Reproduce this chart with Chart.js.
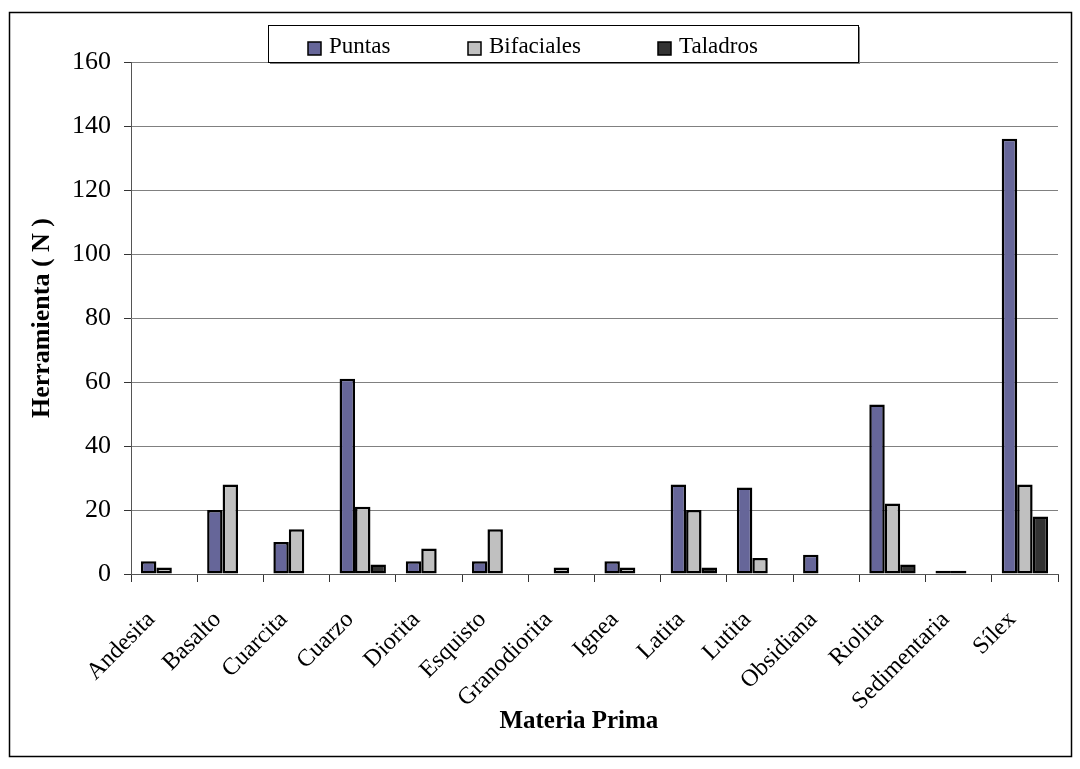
<!DOCTYPE html>
<html>
<head>
<meta charset="utf-8">
<script src="https://cdn.jsdelivr.net/npm/chart.js@4/dist/chart.umd.min.js"></script>
<style>
  html, body { margin: 0; padding: 0; background: #ffffff; }
  canvas { display: block; }
</style>
</head>
<body>
<canvas id="c" width="1080" height="769"></canvas>
<script>
const categories = ["Andesita", "Basalto", "Cuarcita", "Cuarzo", "Diorita", "Esquisto", "Granodiorita", "Ignea", "Latita", "Lutita", "Obsidiana", "Riolita", "Sedimentaria", "Sílex"];
const puntas     = [4, 20, 10, 61, 4, 4, 0, 4, 28, 27, 6, 53, 1, 136];
const bifaciales = [2, 28, 14, 21, 8, 14, 2, 2, 20, 5, 0, 22, 1, 28];
const taladros   = [0, 0, 0, 3, 0, 0, 0, 0, 2, 0, 0, 3, 0, 18];
const seriesNames = ["Puntas", "Bifaciales", "Taladros"];
const yTicks = [0, 20, 40, 60, 80, 100, 120, 140, 160];

const FONT = "'Liberation Serif', 'Times New Roman', serif";

const bgPlugin = {
  id: 'bg',
  beforeDraw(chart) {
    const ctx = chart.ctx;
    ctx.save();
    ctx.fillStyle = '#ffffff';
    ctx.fillRect(0, 0, chart.width, chart.height);
    ctx.restore();
  },
  afterDraw(chart) {
    const ctx = chart.ctx;
    ctx.save();
    // outer frame
    ctx.strokeStyle = '#000000';
    ctx.lineWidth = 1.5;
    ctx.strokeRect(9.5, 12.5, 1062, 744);
    // legend box with shadow
    const lx = 268, ly = 25, lw = 590, lh = 37;
    ctx.fillStyle = '#808080';
    ctx.fillRect(lx + 2, ly + 2, lw, lh);
    ctx.fillStyle = '#ffffff';
    ctx.fillRect(lx, ly, lw, lh);
    ctx.strokeStyle = '#000000';
    ctx.lineWidth = 1;
    ctx.strokeRect(lx + 0.5, ly + 0.5, lw, lh);
    const boxX = [308, 468, 658];
    ctx.font = "23px " + FONT;
    ctx.textBaseline = 'alphabetic';
    ctx.textAlign = 'left';
    chart.data.datasets.forEach((ds, i) => {
      const bx = boxX[i], by = 42;
      ctx.fillStyle = ds.backgroundColor;
      ctx.fillRect(bx, by, 13, 13);
      ctx.strokeStyle = '#000000';
      ctx.lineWidth = 1.5;
      ctx.strokeRect(bx, by, 13, 13);
      ctx.fillStyle = '#000000';
      ctx.fillText(ds.label, bx + 21, 53);
    });
    ctx.restore();
  }
};

const zeroBorder = (c) => (c.raw === 0 ? 0 : 2.5);

new Chart(document.getElementById('c'), {
  type: 'bar',
  data: {
    labels: categories,
    datasets: [
      { label: seriesNames[0], data: puntas, backgroundColor: '#666699', borderColor: '#000000', borderWidth: zeroBorder, borderSkipped: false },
      { label: seriesNames[1], data: bifaciales, backgroundColor: '#C0C0C0', borderColor: '#000000', borderWidth: zeroBorder, borderSkipped: false },
      { label: seriesNames[2], data: taladros, backgroundColor: '#333333', borderColor: '#000000', borderWidth: zeroBorder, borderSkipped: false }
    ]
  },
  options: {
    responsive: false,
    devicePixelRatio: 1,
    animation: false,
    categoryPercentage: 0.7,
    barPercentage: 1.0,
    layout: { padding: { left: 23, right: 22, top: 62, bottom: 28 } },
    plugins: {
      legend: { display: false },
      tooltip: { enabled: false },
      title: { display: false }
    },
    scales: {
      x: {
        grid: { display: true, drawOnChartArea: false, drawTicks: true, tickLength: 8, tickColor: '#333333', offset: true },
        border: { display: true, color: '#555555', width: 1 },
        ticks: {
          color: '#000000',
          font: { family: FONT, size: 24 },
          minRotation: 45, maxRotation: 45, autoSkip: false, padding: 11,
          callback: (v, i) => categories[i] + '   '
        },
        title: {
          display: true, text: 'Materia Prima     ', color: '#000000',
          font: { family: FONT, size: 25, weight: 'bold' },
          padding: { top: 4, bottom: 4 }
        },
        afterFit(scale) { scale.height = 167; }
      },
      y: {
        min: 0, max: 160,
        afterBuildTicks(scale) { scale.ticks = yTicks.map(v => ({ value: v })); },
        grid: { color: '#808080', lineWidth: 1, drawTicks: true, tickLength: 7, tickColor: '#333333' },
        border: { display: true, color: '#555555', width: 1 },
        ticks: { color: '#000000', font: { family: FONT, size: 26 }, padding: 13 },
        title: {
          display: true, text: 'Herramienta ( N )', color: '#000000',
          font: { family: FONT, size: 26, weight: 'bold' },
          padding: { top: 4, bottom: 4 }
        },
        afterFit(scale) { scale.width = 108; }
      }
    }
  },
  plugins: [bgPlugin]
});
</script>
</body>
</html>
